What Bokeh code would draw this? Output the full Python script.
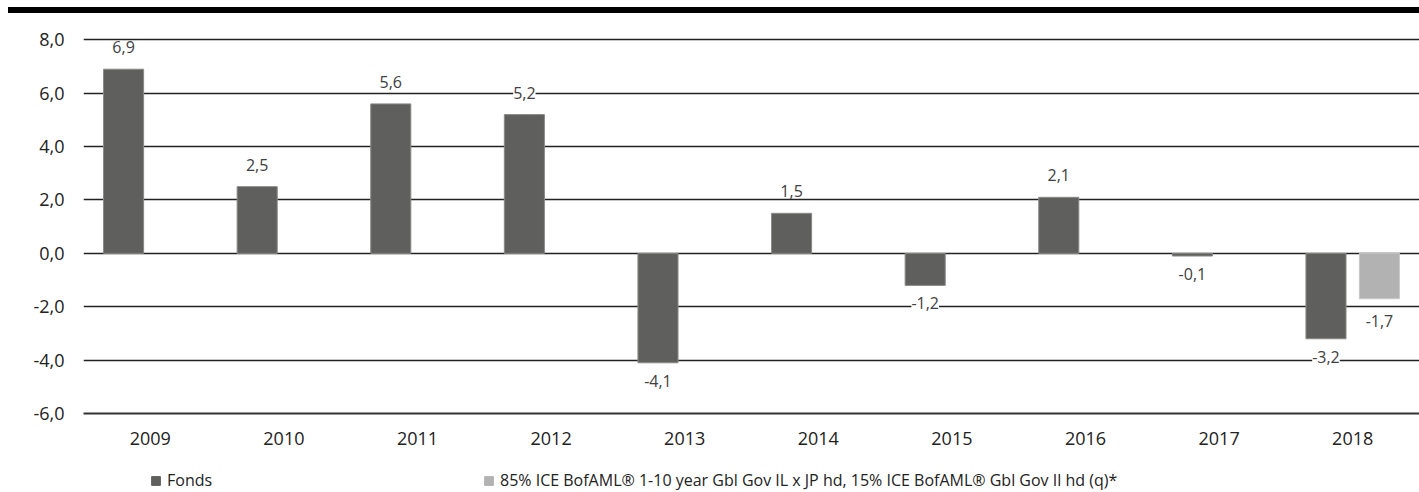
from bokeh.plotting import figure
from bokeh.models import (ColumnDataSource, LabelSet, Legend, LegendItem, Div,
                          CustomJSTickFormatter, FixedTicker, Range1d)
from bokeh.core.properties import value
from bokeh.transform import dodge
from bokeh.layouts import column
from bokeh.embed import file_html
from bokeh.resources import INLINE

years = ["2009", "2010", "2011", "2012", "2013", "2014", "2015", "2016", "2017", "2018"]
fonds = [6.9, 2.5, 5.6, 5.2, -4.1, 1.5, -1.2, 2.1, -0.1, -3.2]
bench = [None, None, None, None, None, None, None, None, None, -1.7]
y_ticks = [-6, -4, -2, 0, 2, 4, 6, 8]
series_names = ["Fonds", "85% ICE BofAML\u00ae 1-10 year Gbl Gov IL x JP hd, 15% ICE BofAML\u00ae Gbl Gov Il hd (q)*"]

FONT = "Open Sans"
C_FONDS = "#5f5f5d"
C_BENCH = "#b2b2b2"

def fmt(v):
    return ("%.1f" % v).replace(".", ",")

src_f = ColumnDataSource(dict(
    years=years, top=fonds,
    label=[fmt(v) for v in fonds],
    off=[22 if v >= 0 else -18 for v in fonds]))
b_years = [y for y, v in zip(years, bench) if v is not None]
b_vals = [v for v in bench if v is not None]
src_b = ColumnDataSource(dict(
    years=b_years, top=b_vals,
    label=[fmt(v) for v in b_vals],
    off=[22 if v >= 0 else -22 for v in b_vals]))

p = figure(x_range=years, y_range=Range1d(-6, 8.5), width=1419, height=445,
           output_backend="svg", toolbar_location=None,
           min_border_left=83, min_border_right=0, min_border_top=13,
           min_border_bottom=45, margin=0)
p.outline_line_color = None

rf = p.vbar(x=dodge("years", -0.2, range=p.x_range), top="top", bottom=0, width=0.3,
            source=src_f, fill_color=C_FONDS, line_color="#8a8a88", line_width=1)
rb = p.vbar(x=dodge("years", 0.2, range=p.x_range), top="top", bottom=0, width=0.3,
            source=src_b, fill_color=C_BENCH, line_color="#c8c8c8", line_width=1)

for src, dx in ((src_f, -0.2), (src_b, 0.2)):
    lbl = LabelSet(x=dodge("years", dx, range=p.x_range), y="top", text="label",
                   y_offset="off", source=src, text_align="center",
                   text_baseline="middle", text_font=value(FONT), text_font_size="16px",
                   text_color="#404040", background_fill_color="white",
                   border_line_color=None)
    p.add_layout(lbl)

p.yaxis.ticker = FixedTicker(ticks=y_ticks)
p.yaxis.formatter = CustomJSTickFormatter(code="return tick.toFixed(1).replace('.', ',');")
p.yaxis.axis_line_color = None
p.yaxis.major_tick_line_color = None
p.yaxis.minor_tick_line_color = None
p.yaxis.major_label_standoff = 13
p.yaxis.major_label_text_font = FONT
p.yaxis.major_label_text_font_size = "18px"
p.yaxis.major_label_text_color = "#222222"

p.xaxis.axis_line_color = "#333333"
p.xaxis.axis_line_width = 2
p.xaxis.major_tick_line_color = None
p.xaxis.minor_tick_line_color = None
p.xaxis.major_label_standoff = 12
p.xaxis.major_label_text_font = FONT
p.xaxis.major_label_text_font_size = "18px"
p.xaxis.major_label_text_color = "#222222"

p.xgrid.grid_line_color = None
p.ygrid.grid_line_color = "#222222"
p.ygrid.grid_line_width = 1.6

# legend strip (swatch renderers sit outside the visible range)
p2 = figure(width=1419, height=34, x_range=(0, 1), y_range=(0, 1),
            output_backend="svg", toolbar_location=None,
            min_border=0, margin=0)
p2.axis.visible = False
p2.grid.grid_line_color = None
p2.outline_line_color = None
lf = p2.vbar(x=[-5], top=[-5], bottom=[-6], width=0.1, fill_color=C_FONDS, line_color=C_FONDS)
lb = p2.vbar(x=[-5], top=[-5], bottom=[-6], width=0.1, fill_color=C_BENCH, line_color=C_BENCH)
legend = Legend(items=[LegendItem(label=series_names[0], renderers=[lf]),
                       LegendItem(label=series_names[1], renderers=[lb])],
                orientation="horizontal", location=(67, 1), spacing=0,
                label_width=316, label_height=20,
                padding=0, margin=0, border_line_color=None,
                background_fill_alpha=0, glyph_width=11, glyph_height=11,
                label_standoff=6, label_text_font=FONT, label_text_font_size="16px",
                label_text_color="#222222")
p2.add_layout(legend, "center")

bar = Div(text="", width=1411, height=6, margin=(7, 0, 0, 8),
          styles={"background-color": "black"})

layout = column(bar, p, p2, spacing=0)
open("out.html", "w").write(file_html(layout, INLINE))
